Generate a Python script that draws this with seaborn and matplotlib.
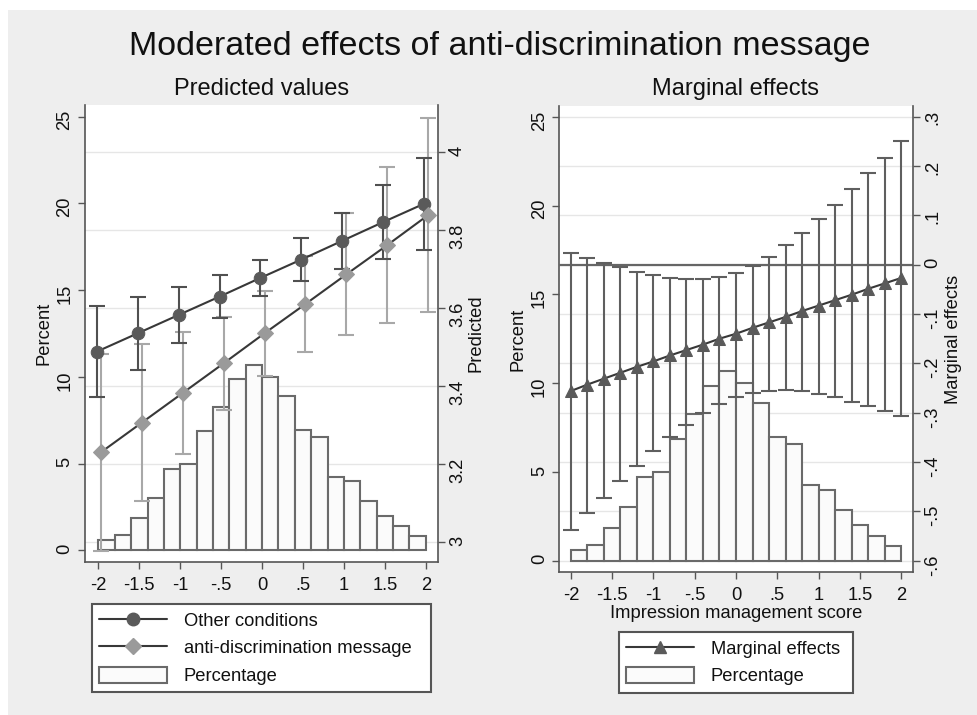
import numpy as np
import pandas as pd
import matplotlib
matplotlib.use("Agg")
import matplotlib.pyplot as plt
import seaborn as sns
from matplotlib.lines import Line2D
from matplotlib.patches import Patch, Rectangle
from matplotlib.ticker import FixedLocator, FixedFormatter

# ---------------- data ----------------
bin_edges = [-2.0, -1.8, -1.6, -1.4, -1.2, -1.0, -0.8, -0.6, -0.4, -0.2, 0.0,
             0.2, 0.4, 0.6, 0.8, 1.0, 1.2, 1.4, 1.6, 1.8, 2.0]
pct = [0.6, 0.9, 1.85, 3.0, 4.7, 5.0, 6.85, 8.25, 9.85, 10.7,
       10.0, 8.9, 6.95, 6.55, 4.25, 4.0, 2.85, 2.0, 1.4, 0.8]

x_pred = [-2, -1.5, -1, -0.5, 0, 0.5, 1, 1.5, 2]
pred_other = [3.489, 3.536, 3.583, 3.630, 3.678, 3.725, 3.773, 3.821, 3.868]
pred_other_lo = [3.373, 3.443, 3.512, 3.575, 3.631, 3.670, 3.702, 3.727, 3.750]
pred_other_hi = [3.605, 3.629, 3.654, 3.685, 3.725, 3.780, 3.844, 3.915, 3.986]
pred_msg = [3.231, 3.307, 3.383, 3.459, 3.536, 3.611, 3.687, 3.762, 3.839]
pred_msg_lo = [2.979, 3.106, 3.226, 3.339, 3.427, 3.489, 3.531, 3.563, 3.590]
pred_msg_hi = [3.483, 3.508, 3.540, 3.579, 3.645, 3.733, 3.843, 3.961, 4.088]

x_me = [-2.0, -1.8, -1.6, -1.4, -1.2, -1.0, -0.8, -0.6, -0.4, -0.2, 0.0,
        0.2, 0.4, 0.6, 0.8, 1.0, 1.2, 1.4, 1.6, 1.8, 2.0]
me = [-0.256, -0.243, -0.231, -0.219, -0.207, -0.196, -0.184, -0.173, -0.162, -0.150, -0.140,
      -0.128, -0.117, -0.106, -0.094, -0.083, -0.072, -0.061, -0.049, -0.038, -0.027]
me_hi = [0.024, 0.014, 0.004, -0.005, -0.014, -0.021, -0.027, -0.030, -0.029, -0.025, -0.016,
         -0.002, 0.016, 0.039, 0.064, 0.092, 0.122, 0.153, 0.186, 0.217, 0.251]
me_lo = [-0.537, -0.504, -0.472, -0.439, -0.408, -0.378, -0.350, -0.324, -0.301, -0.283, -0.269,
         -0.260, -0.256, -0.255, -0.257, -0.262, -0.269, -0.278, -0.286, -0.297, -0.307]

x_ticks = [-2, -1.5, -1, -0.5, 0, 0.5, 1, 1.5, 2]
x_ticklabels = ["-2", "-1.5", "-1", "-.5", "0", ".5", "1", "1.5", "2"]
pct_ticks = [0, 5, 10, 15, 20, 25]
pct_ticklabels = ["0", "5", "10", "15", "20", "25"]
pred_ticks = [3.0, 3.2, 3.4, 3.6, 3.8, 4.0]
pred_ticklabels = ["3", "3.2", "3.4", "3.6", "3.8", "4"]
me_ticks = [0.3, 0.2, 0.1, 0.0, -0.1, -0.2, -0.3, -0.4, -0.5, -0.6]
me_ticklabels = [".3", ".2", ".1", "0", "-.1", "-.2", "-.3", "-.4", "-.5", "-.6"]

title = "Moderated effects of anti-discrimination message"
sub_left = "Predicted values"
sub_right = "Marginal effects"
lab_other = "Other conditions"
lab_msg = "anti-discrimination message"
lab_pct = "Percentage"
lab_me = "Marginal effects"

# ---------------- style ----------------
sns.set_theme(style="white")
plt.rcParams['font.family'] = ['Liberation Sans', 'DejaVu Sans']

W, H = 977, 715
BG = '#eeeeee'
TXT = '#111111'
AXC = '#555555'
BAR_FC = '#fbfbfb'
BAR_EC = '#6a6a6a'
GRID = '#e6e6e6'
LINE_C = '#383838'
DARK_M = '#5a5a5a'
DARK_CI = '#505050'
GRAY_M = '#9a9a9a'
GRAY_CI = '#a8a8a8'
ME_CI = '#5f5f5f'
FS = 13.2
OFF_DARK = -0.02
OFF_GRAY = 0.03

fig = plt.figure(figsize=(W / 100, H / 100), dpi=100)
fig.patch.set_facecolor('white')
fig.add_artist(Rectangle((8 / W, 0), 1 - 8 / W, 1 - 10 / H, transform=fig.transFigure,
                         facecolor=BG, edgecolor='none', zorder=-10))


def px_axes(l, t, r, b):
    return fig.add_axes([l / W, 1 - b / H, (r - l) / W, (b - t) / H])


def style_axes(ax, ax2):
    ax.set_facecolor('white')
    for s in ['top', 'right']:
        ax.spines[s].set_visible(False)
    for s in ['top', 'left', 'bottom']:
        ax2.spines[s].set_visible(False)
    for s in ['left', 'bottom']:
        ax.spines[s].set_color(AXC)
        ax.spines[s].set_linewidth(1.2)
    ax2.spines['right'].set_color(AXC)
    ax2.spines['right'].set_linewidth(1.2)
    for a in (ax, ax2):
        a.tick_params(axis='both', direction='out', length=5, width=1, color=AXC,
                      labelsize=FS, labelcolor=TXT, pad=3)
        a.tick_params(axis='y', labelrotation=90)
        a.grid(False)
    ax.tick_params(axis='y', left=True)
    ax.tick_params(axis='x', bottom=True, pad=5.5)
    ax2.tick_params(axis='y', right=True)
    ax.xaxis.set_major_locator(FixedLocator(x_ticks))
    ax.xaxis.set_major_formatter(FixedFormatter(x_ticklabels))
    ax.yaxis.set_major_locator(FixedLocator(pct_ticks))
    ax.yaxis.set_major_formatter(FixedFormatter(pct_ticklabels))
    ax.set_ylabel('Percent', fontsize=FS, color=TXT, labelpad=3)


def draw_hist(ax):
    edges = np.array(bin_edges)
    hist_df = pd.DataFrame({'mid': (edges[:-1] + edges[1:]) / 2, 'pct': pct})
    sns.histplot(data=hist_df, x='mid', weights='pct', bins=list(bin_edges), ax=ax, stat='count',
                 color=BAR_FC, alpha=1, edgecolor=BAR_EC, linewidth=1.5, zorder=2)
    for p in ax.patches:
        p.set_facecolor(BAR_FC)
        p.set_edgecolor(BAR_EC)


def draw_grid(ax, ax2, ticks):
    lo, hi = ax.get_ylim()
    lo2, hi2 = ax2.get_ylim()
    for t in ticks:
        y = lo + (t - lo2) / (hi2 - lo2) * (hi - lo)
        ax.axhline(y, color=GRID, lw=1.0, zorder=0.5)


# ---------------- left panel ----------------
axL = px_axes(84.5, 105, 438, 562)
axL2 = axL.twinx()
draw_hist(axL)
axL.set_xlim(-2.17, 2.15)
axL.set_ylim(-0.673, 25.67)
axL2.set_ylim(2.950, 4.121)
style_axes(axL, axL2)
draw_grid(axL, axL2, pred_ticks)
axL.set_xlabel('')

xo = np.array(x_pred) + OFF_DARK
xg = np.array(x_pred) + OFF_GRAY
axL2.errorbar(xg, pred_msg,
              yerr=[np.array(pred_msg) - np.array(pred_msg_lo), np.array(pred_msg_hi) - np.array(pred_msg)],
              fmt='none', ecolor=GRAY_CI, elinewidth=1.5, capsize=6, capthick=1.5, zorder=3)
axL2.errorbar(xo, pred_other,
              yerr=[np.array(pred_other) - np.array(pred_other_lo), np.array(pred_other_hi) - np.array(pred_other)],
              fmt='none', ecolor=DARK_CI, elinewidth=1.5, capsize=6, capthick=1.5, zorder=3)
sns.lineplot(x=xo, y=pred_other, ax=axL2, color=LINE_C, lw=1.5, marker='o', markersize=9,
             markerfacecolor=DARK_M, markeredgecolor=DARK_M, zorder=4)
sns.lineplot(x=xg, y=pred_msg, ax=axL2, color=LINE_C, lw=1.5, marker='D', markersize=8,
             markerfacecolor=GRAY_M, markeredgecolor=GRAY_M, zorder=4)
axL2.yaxis.set_major_locator(FixedLocator(pred_ticks))
axL2.yaxis.set_major_formatter(FixedFormatter(pred_ticklabels))
axL2.set_ylabel('Predicted', fontsize=FS, color=TXT, labelpad=1)
axL2.set_xlim(-2.17, 2.15)

# ---------------- right panel ----------------
axR = px_axes(559, 106, 913, 572)
axR2 = axR.twinx()
draw_hist(axR)
axR.set_xlim(-2.145, 2.145)
axR.set_ylim(-0.64, 25.61)
axR2.set_ylim(-0.623, 0.3217)
style_axes(axR, axR2)
draw_grid(axR, axR2, me_ticks)
axR.set_xlabel('Impression management score', fontsize=FS, color=TXT, labelpad=1)

axR2.axhline(0, color='#666666', lw=1.6, zorder=2.5)
axR2.errorbar(x_me, me, yerr=[np.array(me) - np.array(me_lo), np.array(me_hi) - np.array(me)],
              fmt='none', ecolor=ME_CI, elinewidth=1.5, capsize=6, capthick=1.5, zorder=3)
sns.lineplot(x=x_me, y=me, ax=axR2, color=LINE_C, lw=1.5, marker='^', markersize=8.5,
             markerfacecolor=DARK_M, markeredgecolor=DARK_M, zorder=4)
axR2.yaxis.set_major_locator(FixedLocator(me_ticks))
axR2.yaxis.set_major_formatter(FixedFormatter(me_ticklabels))
axR2.set_ylabel('Marginal effects', fontsize=FS, color=TXT, labelpad=3)
axR2.set_xlim(-2.145, 2.145)

# ---------------- titles ----------------
fig.text(500 / W, 1 - 47 / H, title, ha='center', va='center', fontsize=24.5, color=TXT)
fig.text(262 / W, 1 - 89 / H, sub_left, ha='center', va='center', fontsize=17, color=TXT)
fig.text(736 / W, 1 - 89 / H, sub_right, ha='center', va='center', fontsize=17, color=TXT)

# ---------------- legends ----------------
h_other = Line2D([], [], color=LINE_C, lw=1.5, marker='o', markersize=9,
                 markerfacecolor=DARK_M, markeredgecolor=DARK_M)
h_msg = Line2D([], [], color=LINE_C, lw=1.5, marker='D', markersize=8,
               markerfacecolor=GRAY_M, markeredgecolor=GRAY_M)
h_pct = Patch(facecolor=BAR_FC, edgecolor=BAR_EC, lw=1.5)
h_me = Line2D([], [], color=LINE_C, lw=1.5, marker='^', markersize=8.5,
              markerfacecolor=DARK_M, markeredgecolor=DARK_M)

leg_kw = dict(fontsize=FS, frameon=True, fancybox=False, edgecolor='#555555',
              facecolor='white', framealpha=1, handlelength=3.7, handleheight=1.0,
              handletextpad=0.9, labelspacing=0.5, borderpad=0.4, borderaxespad=0,
              mode='expand', loc='upper left')
lg1 = fig.legend([h_other, h_msg, h_pct], [lab_other, lab_msg, lab_pct],
                 bbox_to_anchor=(92 / W, 1 - 694 / H, 339 / W, 90 / H), **leg_kw)
lg1.get_frame().set_linewidth(1.5)
for t in lg1.get_texts():
    t.set_color(TXT)
lg2 = fig.legend([h_me, h_pct], [lab_me, lab_pct],
                 bbox_to_anchor=(619 / W, 1 - 694 / H, 234 / W, 62 / H), **leg_kw)
lg2.get_frame().set_linewidth(1.5)
for t in lg2.get_texts():
    t.set_color(TXT)

fig.savefig('out.png', dpi=100, facecolor=fig.get_facecolor())
